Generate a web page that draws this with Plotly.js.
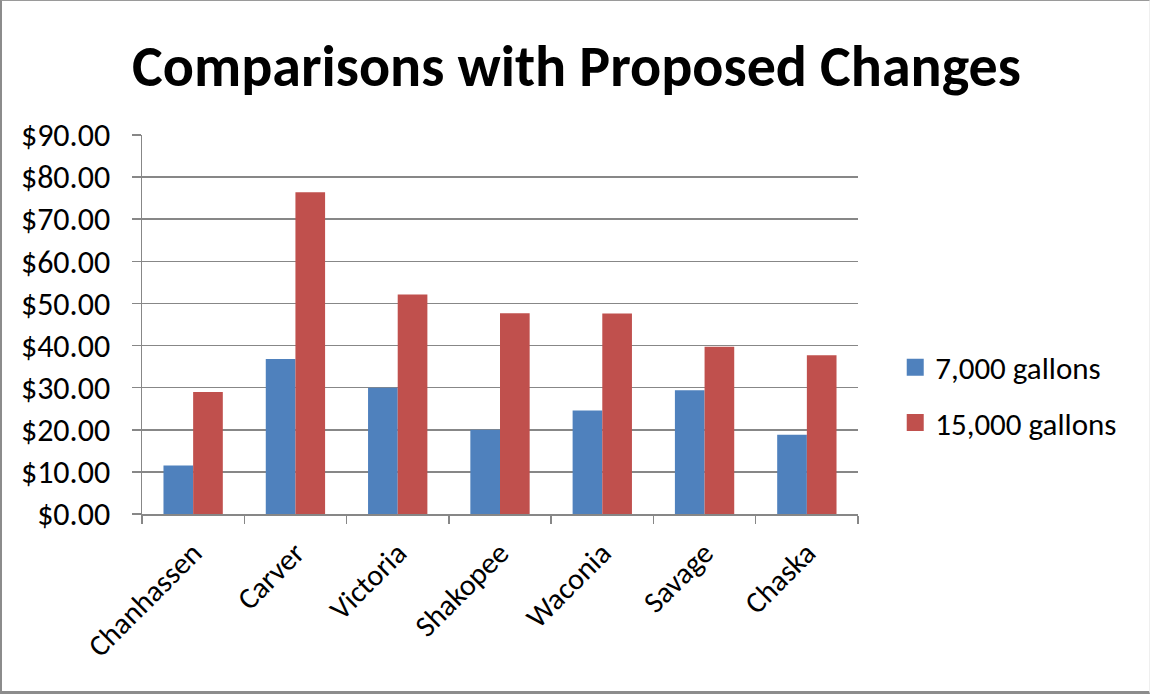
<!DOCTYPE html>
<html>
<head>
<meta charset="utf-8">
<script src="https://cdn.plot.ly/plotly-3.0.1.min.js"></script>
<style>
  html, body { margin: 0; padding: 0; background: #ffffff; }
  #wrap { position: relative; width: 1150px; height: 696px; }
  #chart { width: 1150px; height: 696px; }
  #frame {
    position: absolute; left: 0; top: 0; width: 1150px; height: 694px;
    box-sizing: border-box; pointer-events: none;
    border-left: 2px solid #8c8c8c; border-top: 1px solid #9a9a9a;
    border-right: 1px solid #efefef; border-bottom: 3px solid #8c8c8c;
  }
</style>
</head>
<body>
<div id="wrap">
  <div id="chart"></div>
  <div id="frame"></div>
</div>
<script>
// Monthly water bill by city at two usage levels
const cities = ["Chanhassen", "Carver", "Victoria", "Shakopee", "Waconia", "Savage", "Chaska"];
const bill7000 = [11.5, 36.8, 30.0, 20.0, 24.6, 29.4, 18.8];
const bill15000 = [29.0, 76.4, 52.1, 47.7, 47.6, 39.7, 37.7];
const seriesNames = ["7,000 gallons", "15,000 gallons"];

const FONT = "Carlito, Lato, 'Noto Sans', sans-serif";

const traces = [
  {
    type: "bar", name: seriesNames[0], x: cities, y: bill7000,
    marker: { color: "#4F81BD", line: { width: 0 } },
    legendgroup: "a", hoverinfo: "x+y"
  },
  {
    type: "bar", name: seriesNames[1], x: cities, y: bill15000,
    marker: { color: "#C0504D", line: { width: 0 } },
    legendgroup: "b", hoverinfo: "x+y"
  }
];

const layout = {
  width: 1150, height: 696,
  paper_bgcolor: "#ffffff", plot_bgcolor: "#ffffff",
  margin: { l: 142, r: 292, t: 135, b: 182, pad: 0 },
  barmode: "group", bargap: 0.42, bargroupgap: 0,
  font: { family: FONT, color: "#000000", size: 30 },
  title: {
    text: "<b>Comparisons with Proposed Changes</b>",
    font: { family: FONT, size: 58, color: "#000000" },
    x: 0.5013, xref: "container", xanchor: "center",
    y: 0.905, yref: "container", yanchor: "middle"
  },
  xaxis: {
    type: "category",
    tickangle: -45,
    ticks: "outside", tickson: "boundaries", ticklen: 8, tickcolor: "#878787", tickwidth: 1.5,
    ticklabelstandoff: 8,
    showline: true, linecolor: "#878787", linewidth: 1.5,
    showgrid: false, zeroline: false,
    tickfont: { family: FONT, size: 30, color: "#000000" },
    fixedrange: true
  },
  yaxis: {
    range: [0, 90], dtick: 10, tick0: 0,
    tickprefix: "$", tickformat: ".2f",
    ticks: "outside", ticklen: 9, tickcolor: "#878787", tickwidth: 1.5,
    ticklabelstandoff: 15,
    showline: true, linecolor: "#878787", linewidth: 1.5,
    showgrid: true, gridcolor: "#878787", gridwidth: 1.5,
    zeroline: false,
    tickfont: { family: FONT, size: 32, color: "#000000" },
    fixedrange: true
  },
  showlegend: true,
  legend: {
    x: 1.052, xanchor: "left", y: 0.314, yanchor: "middle",
    traceorder: "grouped", tracegroupgap: 12,
    font: { family: FONT, size: 31, color: "#000000" },
    bgcolor: "rgba(0,0,0,0)", itemwidth: 30
  }
};

Plotly.newPlot("chart", traces, layout, { displayModeBar: false, staticPlot: true }).then(function (gd) {
  // Larger square legend swatches
  gd.querySelectorAll(".legendpoints path").forEach(function (p) {
    p.setAttribute("d", "M8.5,8.5H-8.5V-8.5H8.5Z");
  });
});
</script>
</body>
</html>
